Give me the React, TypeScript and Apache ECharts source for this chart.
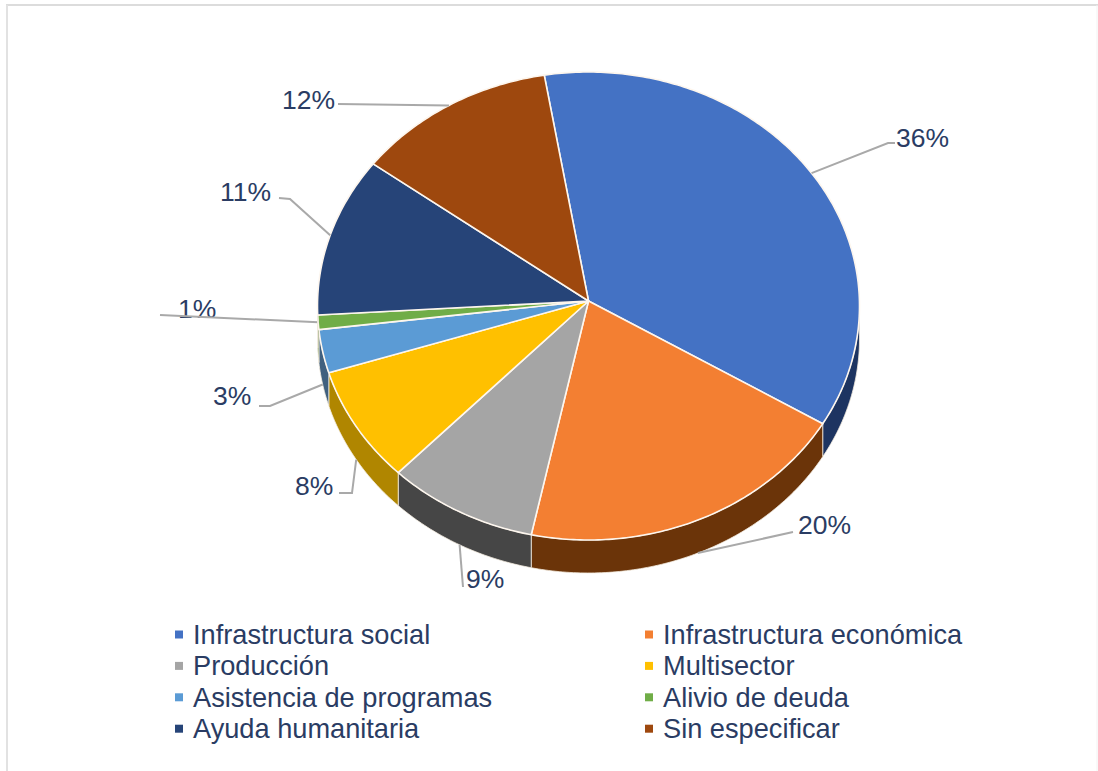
import React, { useEffect, useRef } from "react";
import * as echarts from "echarts";

const categories = [
  "Infraestructura social",
  "Infraestructura económica",
  "Producción",
  "Multisector",
  "Asistencia de programas",
  "Alivio de deuda",
  "Ayuda humanitaria",
  "Sin especificar",
];
const legendNames = [
  "Infrastructura social",
  "Infrastructura económica",
  "Producción",
  "Multisector",
  "Asistencia de programas",
  "Alivio de deuda",
  "Ayuda humanitaria",
  "Sin especificar",
];
const shares = [36, 20, 9, 8, 3, 1, 11, 12];
const topColors = ["#4472c4", "#f37f32", "#a5a5a5", "#ffc000", "#5b9bd5", "#70ad47", "#264478", "#9e480e"];
const wallColors = ["#1d3461", "#6b3409", "#464646", "#b08600", "#40607f", "#4a7530", "#1a2f54", "#6e3209"];

// label geometry: [text x, text y, text align, elbow x, elbow y, line end x, line end y]
const labelLayout: [number, number, string, number, number, number, number][] = [
  [896, 138, "left", 888, 143, 895, 143],
  [798, 525, "left", 793, 532, 793, 532],
  [466, 579, "left", 463, 587, 463, 587],
  [295, 486, "left", 352, 493, 339, 493],
  [213, 396, "left", 270, 406, 259, 406],
  [178, 309, "left", 160, 315, 160, 315],
  [220, 192, "left", 290, 199, 279, 198],
  [282, 100, "left", 338, 104, 338, 104],
];

const CX = 588.5;
const CY = 306;
const RX = 271;
const RY = 234;
const APEX_Y = 301;
const DEPTH = 33;
const START_DEG = -9.4;
const LAST_WALL_LABEL_DEG = 262;
const TEXT = "#2a3c63";
const FONT = '"Liberation Sans", Arial, sans-serif';

const rim = (deg: number): [number, number] => {
  const r = (deg * Math.PI) / 180;
  return [CX + RX * Math.sin(r), CY - RY * Math.cos(r)];
};

const arcPoints = (from: number, to: number) => {
  const n = Math.max(2, Math.ceil((to - from) / 0.75));
  const pts: [number, number][] = [];
  for (let i = 0; i <= n; i++) pts.push(rim(from + ((to - from) * i) / n));
  return pts;
};

const cumulative = shares.map((_, i) => shares.slice(0, i).reduce((a, b) => a + b, 0));

const makeSeries = (i: number) => ({
  type: "custom",
  name: legendNames[i],
  coordinateSystem: "none",
  silent: true,
  itemStyle: { color: topColors[i] },
  data: [[cumulative[i], shares[i]]],
  renderItem: (_: any, api: any) => {
    const startPct = api.value(0);
    const value = api.value(1);
    const a0 = START_DEG + startPct * 3.6;
    const a1 = a0 + value * 3.6;
    const mid = (a0 + a1) / 2;
    const children: any[] = [];

    // visible wall: the part of the rim on the viewer's side
    const w0 = Math.max(a0, 90);
    const w1 = Math.min(a1, 270);
    if (w1 > w0) {
      const upper = arcPoints(w0, w1);
      const lower = upper.map(([x, y]) => [x, y + DEPTH]).reverse();
      children.push({
        type: "polygon",
        shape: { points: [...upper, ...lower] },
        style: { fill: wallColors[i], stroke: "#f4ece0", lineWidth: 0.8 },
      });
    }

    children.push({
      type: "polygon",
      shape: { points: [[CX, APEX_Y], ...arcPoints(a0, a1)] },
      style: { fill: topColors[i], stroke: "#fdf6ee", lineWidth: 1.6, lineJoin: "round" },
    });

    // leader line and percentage label
    const [tx, ty, align, ex, ey, lx, ly] = labelLayout[i];
    const [ax, ay0] = rim(mid);
    const ay = mid > 90 && mid < LAST_WALL_LABEL_DEG ? ay0 + DEPTH : ay0;
    children.push({
      type: "text",
      style: {
        x: tx,
        y: ty,
        text: `${value}%`,
        fill: TEXT,
        fontSize: 26.5,
        fontFamily: FONT,
        textAlign: align,
        textVerticalAlign: "middle",
      },
    });
    children.push({
      type: "polyline",
      shape: { points: [[ax, ay], [ex, ey], [lx, ly]] },
      style: { fill: "none", stroke: "#a9a9a9", lineWidth: 2 },
    });
    return { type: "group", children };
  },
});

const legendFor = (names: number[], left: number) => ({
  show: true,
  orient: "vertical",
  left,
  top: 620,
  padding: 0,
  itemGap: 2.4,
  itemWidth: 8,
  itemHeight: 8,
  selectedMode: false,
  textStyle: { color: TEXT, fontSize: 27.2, fontFamily: FONT, padding: [0, 0, 0, 5], lineHeight: 29 },
  data: names.map((i) => ({ name: legendNames[i], icon: "rect", itemStyle: { color: topColors[i] } })),
});

export default function App() {
  const ref = useRef<HTMLDivElement>(null);
  useEffect(() => {
    document.body.style.margin = "0";
    const chart = echarts.init(ref.current!, null, { renderer: "svg" });
    chart.setOption({
      animation: false,
      backgroundColor: "#ffffff",
      legend: [legendFor([0, 2, 4, 6], 175), legendFor([1, 3, 5, 7], 645)],
      graphic: [
        { type: "line", shape: { x1: 6, y1: 5, x2: 1098, y2: 5 }, style: { stroke: "#dcdcdc", lineWidth: 2 } },
        { type: "line", shape: { x1: 7, y1: 5, x2: 7, y2: 771 }, style: { stroke: "#e2e2e2", lineWidth: 2 } },
        { type: "line", shape: { x1: 1097, y1: 5, x2: 1097, y2: 771 }, style: { stroke: "#f2f2f2", lineWidth: 1 } },
      ],
      series: categories.map((_, i) => makeSeries(i)),
    });
    return () => chart.dispose();
  }, []);
  return <div ref={ref} style={{ width: 1098, height: 771, position: "absolute", left: 0, top: 0 }} />;
}
